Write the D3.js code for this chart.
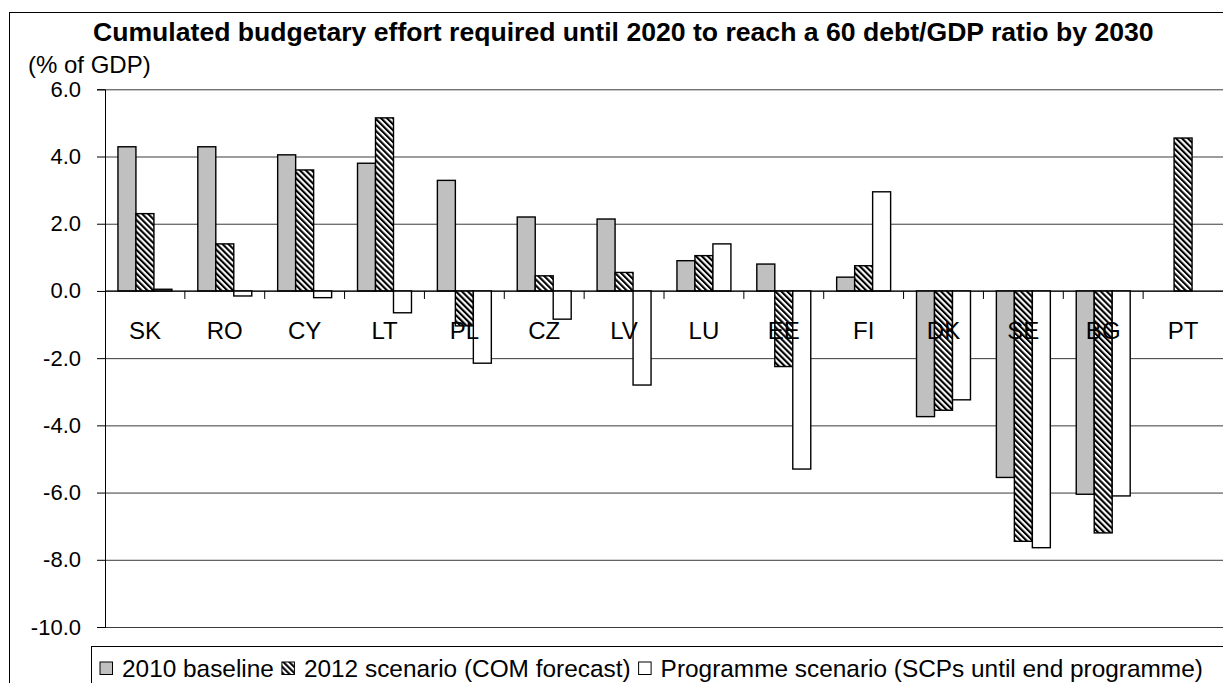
<!DOCTYPE html>
<html>
<head>
<meta charset="utf-8">
<script src="https://cdn.jsdelivr.net/npm/d3@7"></script>
<style>
  body { margin: 0; background: #fff; }
  svg { display: block; font-family: "Liberation Sans", Arial, sans-serif; }
</style>
</head>
<body>
<div id="chart"></div>
<script>
// Values (% of GDP)
const categories = ["SK", "RO", "CY", "LT", "PL", "CZ", "LV", "LU", "EE", "FI", "DK", "SE", "BG", "PT"];
const baseline2010 = [4.29, 4.29, 4.05, 3.80, 3.29, 2.20, 2.14, 0.90, 0.80, 0.41, -3.74, -5.55, -6.05, null];
const scenario2012 = [2.30, 1.40, 3.60, 5.15, -1.04, 0.45, 0.55, 1.05, -2.25, 0.75, -3.55, -7.45, -7.20, 4.55];
const programme = [0.05, -0.15, -0.20, -0.65, -2.15, -0.84, -2.80, 1.40, -5.30, 2.95, -3.24, -7.64, -6.10, null];
const seriesNames = ["2010 baseline", "2012 scenario (COM forecast)", "Programme scenario (SCPs until end programme)"];
const yTicks = [-10, -8, -6, -4, -2, 0, 2, 4, 6];

const W = 1223, H = 683;
const plot = { left: 105, right: 1223, top: 89.3, bottom: 627 };

const svg = d3.select("#chart").append("svg")
    .attr("width", W)
    .attr("height", H);

svg.append("rect").attr("width", W).attr("height", H).attr("fill", "#fff");

// hatch pattern for the 2012 scenario
const defs = svg.append("defs");
defs.append("pattern")
    .attr("id", "hatch")
    .attr("patternUnits", "userSpaceOnUse")
    .attr("width", 4.2)
    .attr("height", 4.2)
    .attr("patternTransform", "rotate(-45)")
    .call(p => {
        p.append("rect").attr("width", 4.2).attr("height", 4.2).attr("fill", "#fff");
        p.append("rect").attr("width", 2.1).attr("height", 4.2).attr("fill", "#000");
    });

const fills = ["#c0c0c0", "url(#hatch)", "#ffffff"];

// outer frame (runs off the picture on the right and bottom)
svg.append("rect")
    .attr("x", 9.5).attr("y", 12.5)
    .attr("width", 1300).attr("height", 800)
    .attr("fill", "none").attr("stroke", "#000").attr("stroke-width", 1);

// title
svg.append("text")
    .attr("x", 93).attr("y", 41)
    .attr("font-size", 26.6).attr("font-weight", "bold")
    .text("Cumulated budgetary effort required until 2020 to reach a 60 debt/GDP ratio by 2030");

svg.append("text")
    .attr("x", 28).attr("y", 73)
    .attr("font-size", 24)
    .text("(% of GDP)");

// scales
const x0 = d3.scaleBand()
    .domain(categories)
    .range([plot.left, plot.right])
    .paddingInner(0).paddingOuter(0);

const x1 = d3.scaleBand()
    .domain(d3.range(3))
    .range([0, x0.bandwidth()])
    .paddingInner(0).paddingOuter(0.72);

const y = d3.scaleLinear()
    .domain([-10, 6])
    .range([plot.bottom, plot.top]);

// gridlines
svg.append("g")
    .attr("transform", `translate(${plot.left},0)`)
    .call(d3.axisLeft(y).tickValues(yTicks).tickSize(-(plot.right - plot.left)).tickFormat(""))
    .call(g => g.select(".domain").remove())
    .call(g => g.selectAll("line").attr("stroke", "#3a3a3a").attr("stroke-width", 1));

// y axis
svg.append("g")
    .attr("transform", `translate(${plot.left},0)`)
    .call(d3.axisLeft(y).tickValues(yTicks).tickSize(8).tickPadding(16).tickFormat(d => d.toFixed(1)))
    .call(g => g.select(".domain").attr("stroke", "#000"))
    .call(g => g.selectAll("line").attr("stroke", "#000"))
    .call(g => g.selectAll("text")
        .attr("font-family", "Liberation Sans, Arial, sans-serif")
        .attr("font-size", 22).attr("fill", "#000"));

// bars
const rows = categories.map((c, i) => ({ cat: c, vals: [baseline2010[i], scenario2012[i], programme[i]] }));

svg.append("g").selectAll("g")
    .data(rows)
    .join("g")
    .attr("transform", d => `translate(${x0(d.cat)},0)`)
    .selectAll("rect")
    .data(d => d.vals.map((v, k) => ({ v, k })).filter(e => e.v !== null))
    .join("rect")
    .attr("x", e => x1(e.k))
    .attr("width", x1.bandwidth())
    .attr("y", e => y(Math.max(0, e.v)))
    .attr("height", e => Math.abs(y(e.v) - y(0)))
    .attr("fill", e => fills[e.k])
    .attr("stroke", "#000")
    .attr("stroke-width", 1.4);

// category axis along zero
const xAxis = svg.append("g")
    .attr("transform", `translate(0,${y(0)})`)
    .call(d3.axisBottom(x0).tickSize(0).tickPadding(31))
    .call(g => g.select(".domain").attr("stroke", "#000").attr("d", `M${plot.left},0H${plot.right}`))
    .call(g => g.selectAll("text")
        .attr("font-family", "Liberation Sans, Arial, sans-serif")
        .attr("font-size", 24).attr("fill", "#000"));

// tick marks between categories
xAxis.selectAll(".sep")
    .data(categories.slice(1))
    .join("line")
    .attr("class", "sep")
    .attr("x1", d => x0(d)).attr("x2", d => x0(d))
    .attr("y1", 0).attr("y2", 8)
    .attr("stroke", "#000");

// legend, items laid out one after the other
const legend = svg.append("g");
legend.append("rect")
    .attr("x", 91.5).attr("y", 646.5)
    .attr("width", 1200).attr("height", 100)
    .attr("fill", "#fff").attr("stroke", "#000");

let lx = 100;
seriesNames.forEach((name, k) => {
    legend.append("rect")
        .attr("x", lx).attr("y", 662)
        .attr("width", 12.5).attr("height", 12.5)
        .attr("fill", fills[k]).attr("stroke", "#000").attr("stroke-width", 1);
    const t = legend.append("text")
        .attr("x", lx + 22).attr("y", 677)
        .attr("font-size", 24.4)
        .text(name);
    lx += 22 + t.node().getComputedTextLength() + 8;
});
</script>
</body>
</html>
